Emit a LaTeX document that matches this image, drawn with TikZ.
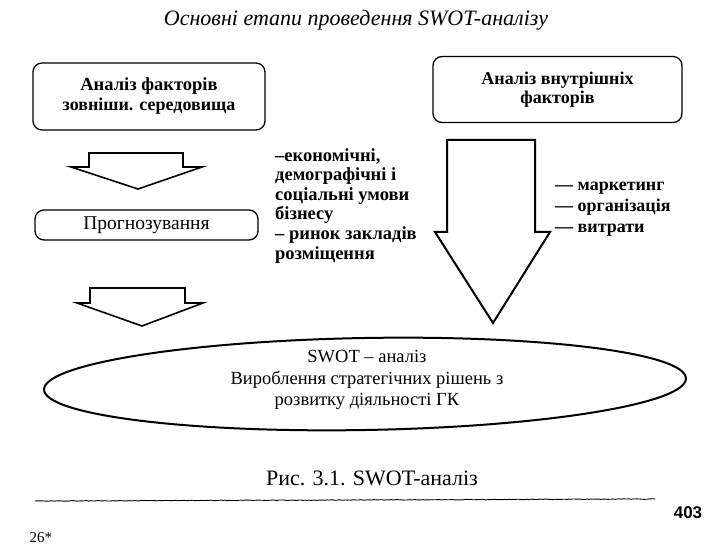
\documentclass[tikz,border=0pt]{standalone}
\usepackage{fontspec}
\setmainfont{Liberation Serif}
\newfontfamily\numfont{Liberation Sans}
\usetikzlibrary{shapes.geometric,decorations.pathmorphing}
\tikzset{
  stagebox/.style={draw, line width=1.3pt, rounded corners=9pt, inner sep=0pt, align=center, font=\fontsize{18}{19}\selectfont},
  blockarrow/.style={draw, line width=1.6pt, line join=miter, fill=white},
  plain/.style={inner sep=0pt, align=left},
}
\begin{document}
\begin{tikzpicture}[x=1pt,y=-1pt]
\useasboundingbox (0,0) rectangle (724,545);
% title
\node[inner sep=0pt, font=\fontsize{22}{24}\itshape\selectfont] (title) at (356,20) {Основні етапи проведення SWOT-аналізу};
% boxes
\node[stagebox, minimum width=232pt, minimum height=67pt, font=\fontsize{18.5}{19}\bfseries\selectfont] (ext) at (149,96.5) {Аналіз факторів\\[1pt]{\fontsize{18}{19}\selectfont зовніши. середовища}};
\node[stagebox, minimum width=249pt, minimum height=66pt, font=\fontsize{18}{19}\bfseries\selectfont] (int) at (557.5,89.5) {Аналіз внутрішніх\\факторів};
\node[stagebox, minimum width=223pt, minimum height=30pt, font=\fontsize{19.5}{21}\selectfont] (prog) at (146.5,225) {Прогнозування};
% small arrow 1
\draw[blockarrow] (89,167) -- (89,153) -- (183,153) -- (183,167) -- (202,167) -- (138,189) -- (71,167) -- cycle;
% small arrow 2
\draw[blockarrow] (90,303) -- (90,288) -- (185,288) -- (185,303) -- (203,303) -- (142,326) -- (77,303) -- cycle;
% big arrow
\draw[blockarrow, line width=2pt] (447,232) -- (447,140) -- (535,140) -- (535,232) -- (550,232) -- (493,323) -- (435,232) -- cycle;
% middle text
\node[plain, anchor=north west, font=\fontsize{18.5}{19.6}\bfseries\selectfont] (env) at (275,148) {–економічні,\\демографічні і\\соціальні умови\\бізнесу\\– ринок закладів\\розміщення};
% right text
\node[plain, anchor=north west, font=\fontsize{18}{19}\bfseries\selectfont] (intlist) at (555,182) {— маркетинг\\[2pt]— організація\\[2pt]— витрати};
% ellipse
\node[ellipse, draw, line width=2pt, minimum width=642pt, minimum height=92pt, rotate=1, inner sep=0pt] (swot) at (365,384) {};
\node[inner sep=0pt, align=center, font=\fontsize{18.5}{21.5}\selectfont] (swottext) at (367,380) {SWOT – аналіз\\Вироблення стратегічних рішень з\\розвитку діяльності ГК};
% caption
\node[inner sep=0pt, font=\fontsize{22}{24}\selectfont] (cap) at (372,478) {Рис. 3.1. SWOT-аналіз};
% rule
\coordinate (ra) at (35,501);
\coordinate (rb) at (655,499);
\draw[line width=0.9pt, decorate, decoration={random steps, segment length=2pt, amplitude=0.3pt}] (ra) -- (rb);
\node[inner sep=0pt, font=\numfont\fontsize{17}{19}\bfseries\selectfont] (pg) at (688,513) {403};
\node[inner sep=0pt, font=\fontsize{15}{17}\selectfont] (sig) at (41,538) {26*};
\end{tikzpicture}
\end{document}
